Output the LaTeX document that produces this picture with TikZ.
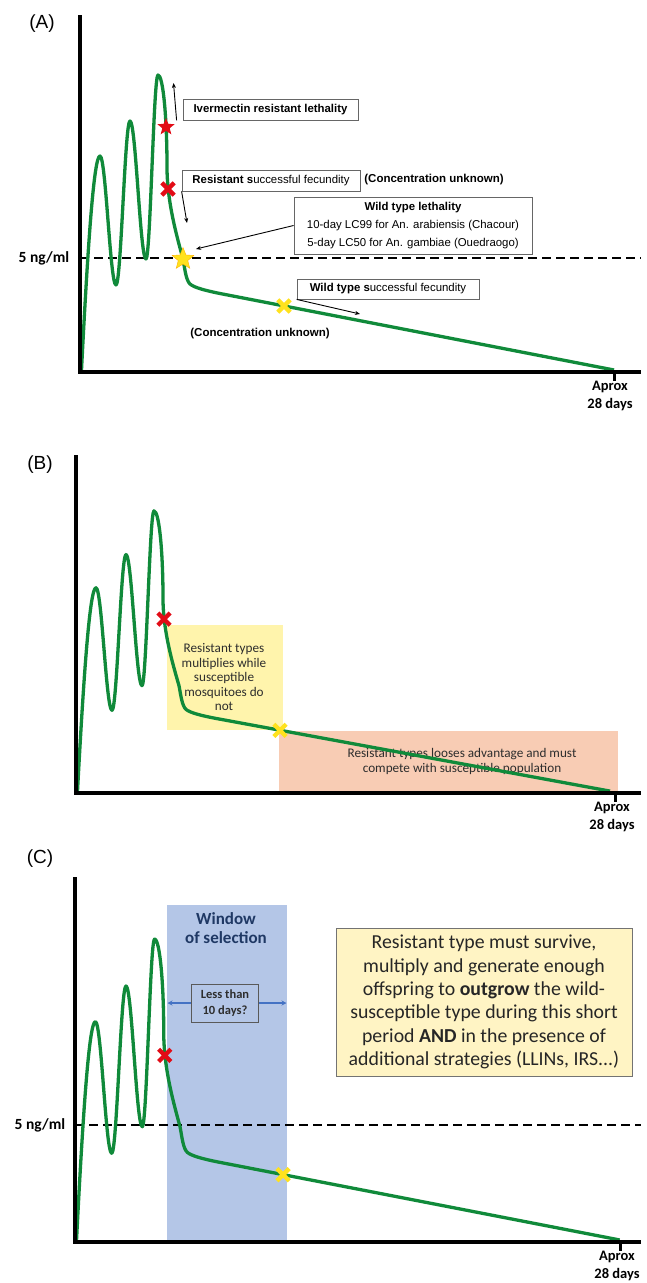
\documentclass[tikz,border=0pt]{standalone}
\usepackage{fontspec}
\setmainfont{Liberation Sans}
\newfontfamily\calfont{Carlito}
\usetikzlibrary{shapes.geometric,shapes.misc,arrows.meta}
\definecolor{curvegreen}{RGB}{16,138,58}
\definecolor{redmk}{RGB}{226,12,22}
\definecolor{yelmk}{RGB}{255,226,30}
\definecolor{boxyel}{RGB}{255,244,172}
\definecolor{boxpink}{RGB}{248,204,180}
\definecolor{winblue}{RGB}{180,198,231}
\definecolor{navy}{RGB}{31,56,100}
\definecolor{arrblue}{RGB}{68,114,196}
\definecolor{notebg}{RGB}{255,244,196}
\definecolor{txtgray}{RGB}{45,45,45}
\newcommand\osc[4]{-- plot[domain=0:1,samples=15,smooth] ({#1+(#3-#1)*\x},{#4+(#2-#4)*(1+cos(180*\x))/2})}
\newcommand\pkcurve{(1.5,2) .. controls (8,130) and (14,216) .. (20,216)
  \osc{20}{216}{36}{87} \osc{36}{87}{50}{251} \osc{50}{251}{66}{113} \osc{66}{113}{78}{297}
  .. controls (83,297) and (87,255) .. (87,205)
  .. controls (87,170) and (97,135) .. (103,113)
  .. controls (105,102) and (106,92) .. (110,88)
  .. controls (114,84.5) and (125,81.5) .. (140,78.5) -- (534,2)}
\tikzset{
  axis/.style={line width=4pt},
  curve/.style={draw=curvegreen,line width=3.3pt,line join=round},
  thr/.style={line width=2.6pt,dash pattern=on 9pt off 5pt},
  redstar/.style={star,star points=5,star point ratio=2.3,fill=redmk,inner sep=0pt,minimum size=18pt},
  yelstar/.style={star,star points=5,star point ratio=2.3,fill=yelmk,draw=orange!60!yellow,line width=0.4pt,inner sep=0pt,minimum size=23pt},
  xmk/.style={cross out,draw=#1,line width=4.3pt,inner sep=0pt,minimum size=8pt},
  panel/.style={font=\fontsize{19}{21}\selectfont},
  lbl/.style={font=\calfont\bfseries\fontsize{15.5}{17}\selectfont},
  aprox/.style={font=\calfont\bfseries\fontsize{14.5}{18}\selectfont,align=center,anchor=north,inner sep=0pt},
  abox/.style={draw=black!60,line width=0.8pt,fill=white,inner sep=0pt,font=\fontsize{11.4}{13}\selectfont},
  note/.style={font=\bfseries\fontsize{11.5}{13}\selectfont},
  arr/.style={line width=0.9pt,-{Stealth[length=5pt,width=4pt]}},
  btext/.style={font=\calfont\fontsize{13.2}{14.5}\selectfont,text=txtgray,align=center},
}
\begin{document}
\begin{tikzpicture}[x=1pt,y=-1pt]
\useasboundingbox (0,0) rectangle (646,1283);
\fill[white] (0,0) rectangle (646,1283);

% ================= Panel A =================
\node[panel] (labA) at (42,24) {(A)};
\node[lbl] (thrA) at (44,258) {5 ng/ml};
\draw[thr] (80,258) -- (641,258);
\begin{scope}[shift={(80,372)},yscale=-1]
  \draw[curve] \pkcurve;
  \node[redstar] (rsA) at (86,245) {};
  \node[xmk=redmk] (rxA) at (88,183) {};
  \node[yelstar] (ysA) at (103,113) {};
  \node[xmk=yelmk] (yxA) at (204,66) {};
\end{scope}
\draw[axis] (80,15) -- (80,374);
\draw[axis] (78,372) -- (641,372);
\draw[line width=3pt] (614,372) -- (614,381);
\node[aprox] (apA) at (610,381) {Aprox\\28 days};

\node[abox,minimum width=175pt,minimum height=21pt] (ivm) at (270.5,109.5) {\bfseries Ivermectin resistant lethality};
\coordinate (ivmtip) at (173.5,83);
\draw[arr] ([xshift=-6pt]ivm.south west) -- (ivmtip);

\node[abox,minimum width=178pt,minimum height=21pt] (resf) at (271,180.5) {\textbf{Resistant s}uccessful fecundity};
\node[note] (conc1) at (434,180) {(Concentration unknown)};
\coordinate (resftip) at (187,223);
\draw[arr] (resf.south west) -- (resftip);

\node[abox,minimum width=238pt,minimum height=57pt,align=center,font=\fontsize{11.4}{18}\selectfont] (wtl) at (413,225.5) {\textbf{Wild type lethality}\\10-day LC99 for An. arabiensis (Chacour)\\5-day LC50 for An. gambiae (Ouedraogo)};
\coordinate (wtltip) at (196,249);
\draw[arr] (wtl.west) -- (wtltip);

\node[abox,minimum width=182pt,minimum height=20pt] (wtf) at (388,289) {\textbf{Wild type s}uccessful fecundity};
\coordinate (wtftip) at (360,314);
\draw[arr] (wtf.south west) -- (wtftip);
\node[note] (conc2) at (260,334) {(Concentration unknown)};

% ================= Panel B =================
\node[panel] (labB) at (40,465) {(B)};
\fill[boxyel] (167,625) rectangle (283,730);
\fill[boxpink] (279,731) rectangle (618,792);
\node[btext] (ybtxt) at (224,677) {Resistant types\\multiplies while\\susceptible\\mosquitoes do\\not};
\node[btext] (pbtxt) at (462,761.5) {Resistant types looses advantage and must\\compete with susceptible population};
\begin{scope}[shift={(76,793)},yscale=-0.95]
  \draw[curve] \pkcurve;
  \node[xmk=redmk] (rxB) at (88,183) {};
  \node[xmk=yelmk] (yxB) at (204,66) {};
\end{scope}
\draw[axis] (76,455) -- (76,795);
\draw[axis] (74,793) -- (641,793);
\draw[line width=3pt] (615,793) -- (615,802);
\node[aprox] (apB) at (612,802) {Aprox\\28 days};

% ================= Panel C =================
\node[panel] (labC) at (40,859) {(C)};
\fill[winblue] (167,905) rectangle (287,1240);
\node[font=\calfont\bfseries\fontsize{17}{19.5}\selectfont,text=navy,align=center] (win) at (226,928) {Window\\of selection};
\node[draw=black!65,line width=0.8pt,fill=winblue,minimum width=67pt,minimum height=38pt,inner sep=0pt,align=center,font=\calfont\bfseries\fontsize{12.5}{15.3}\selectfont,text=txtgray] (less) at (225,1003) {Less than\\10 days?};
\coordinate (lessL) at (167.5,1003);
\coordinate (lessR) at (286.5,1003);
\draw[line width=1.2pt,draw=arrblue,-{Stealth[length=5pt,width=5pt]}] (less.west) -- (lessL);
\draw[line width=1.2pt,draw=arrblue,-{Stealth[length=5pt,width=5pt]}] (less.east) -- (lessR);
\node[lbl] (thrC) at (40,1125) {5 ng/ml};
\draw[thr] (75,1125) -- (641,1125);
\begin{scope}[shift={(75,1242)},xscale=1.02,yscale=-1.02]
  \draw[curve] \pkcurve;
  \node[xmk=redmk] (rxC) at (88,183) {};
  \node[xmk=yelmk] (yxC) at (204,66) {};
\end{scope}
\draw[axis] (75,877) -- (75,1244);
\draw[axis] (73,1242) -- (641,1242);
\draw[line width=3pt] (620,1242) -- (620,1251);
\node[aprox] (apC) at (617,1251) {Aprox\\28 days};

\node[draw=black!55,line width=0.9pt,fill=notebg,minimum width=296pt,minimum height=148pt,inner sep=0pt,align=center,font=\calfont\fontsize{19.8}{23.4}\selectfont,text=black!85] (note) at (484,1002) {Resistant type must survive,\\multiply and generate enough\\offspring to \textbf{outgrow} the wild-\\susceptible type during this short\\period \textbf{AND} in the presence of\\additional strategies (LLINs, IRS...)};
\end{tikzpicture}
\end{document}
